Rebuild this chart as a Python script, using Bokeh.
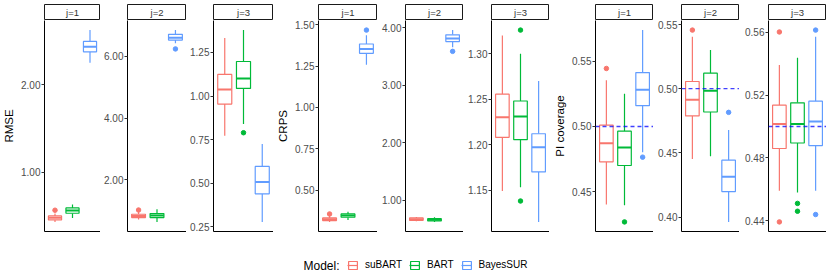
from bokeh.plotting import figure
from bokeh.layouts import row, column
from bokeh.models import (ColumnDataSource, Range1d, FixedTicker,
                          NumeralTickFormatter, Span, Label, Legend, LegendItem)
from bokeh.transform import dodge
from bokeh.core.properties import value
from bokeh.embed import file_html
from bokeh.resources import INLINE

MODELS = ["suBART", "BART", "BayesSUR"]
COLORS = ["#F8766D", "#00BA38", "#619CFF"]
FACETS = ["j=1", "j=2", "j=3"]
METRICS = ["RMSE", "CRPS", "PI coverage"]

# ---------------- RMSE ----------------
rmse_j1 = dict(lower=[0.431, 0.477, 2.252], q1=[0.454, 0.530, 2.378], median=[0.479, 0.561, 2.435],
               q3=[0.4995, 0.591, 2.497], upper=[0.527, 0.630, 2.627])
rmse_j1_out = dict(model=["suBART"], value=[0.565])
rmse_j1_ticks = [1.0, 2.0]

rmse_j2 = dict(lower=[0.718, 0.641, 6.417], q1=[0.782, 0.782, 6.52], median=[0.833, 0.846, 6.596],
               q3=[0.888, 0.910, 6.705], upper=[0.974, 1.048, 6.843])
rmse_j2_out = dict(model=["suBART", "BayesSUR"], value=[1.026, 6.234])
rmse_j2_ticks = [2.0, 4.0, 6.0]

rmse_j3 = dict(lower=[0.772, 0.840, 0.279], q1=[0.954, 1.044, 0.440], median=[1.038, 1.100, 0.507],
               q3=[1.124, 1.198, 0.597], upper=[1.333, 1.378, 0.725])
rmse_j3_out = dict(model=["BART"], value=[0.790])
rmse_j3_ticks = [0.25, 0.50, 0.75, 1.00, 1.25]

# ---------------- CRPS ----------------
crps_j1 = dict(lower=[0.309, 0.321, 1.258], q1=[0.317, 0.337, 1.327], median=[0.325, 0.347, 1.353],
               q3=[0.333, 0.357, 1.383], upper=[0.347, 0.371, 1.436])
crps_j1_out = dict(model=["suBART", "BayesSUR"], value=[0.357, 1.467])
crps_j1_ticks = [0.25, 0.50, 0.75, 1.00, 1.25, 1.50]

crps_j2 = dict(lower=[0.634, 0.624, 3.66], q1=[0.652, 0.641, 3.76], median=[0.672, 0.660, 3.814],
               q3=[0.693, 0.681, 3.878], upper=[0.711, 0.704, 3.96])
crps_j2_out = dict(model=["BayesSUR"], value=[3.59])
crps_j2_ticks = [1.0, 2.0, 3.0, 4.0]

crps_j3 = dict(lower=[1.149, 1.153, 1.115], q1=[1.208, 1.2055, 1.170], median=[1.230, 1.231, 1.197],
               q3=[1.2555, 1.248, 1.212], upper=[1.320, 1.300, 1.270])
crps_j3_out = dict(model=["BART", "BART"], value=[1.326, 1.138])
crps_j3_ticks = [1.15, 1.20, 1.25, 1.30]

# ---------------- PI coverage ----------------
pi_j1 = dict(lower=[0.4403, 0.4397, 0.4803], q1=[0.4729, 0.4701, 0.5159], median=[0.4872, 0.4839, 0.5281],
             q3=[0.5010, 0.4964, 0.5413], upper=[0.5353, 0.5250, 0.5738])
pi_j1_out = dict(model=["suBART", "BART", "BayesSUR"], value=[0.5444, 0.4269, 0.4765])
pi_j1_ticks = [0.45, 0.50, 0.55]

pi_j2 = dict(lower=[0.4453, 0.4474, 0.3963], q1=[0.4787, 0.4818, 0.4199], median=[0.4914, 0.4984, 0.4314],
             q3=[0.5055, 0.5120, 0.4443], upper=[0.5403, 0.5300, 0.4677])
pi_j2_out = dict(model=["suBART", "BayesSUR"], value=[0.5455, 0.4815])
pi_j2_ticks = [0.40, 0.45, 0.50, 0.55]

pi_j3 = dict(lower=[0.4590, 0.4579, 0.4590], q1=[0.4860, 0.4895, 0.4879], median=[0.5017, 0.5017, 0.5032],
             q3=[0.5136, 0.5151, 0.5162], upper=[0.5393, 0.5439, 0.5573])
pi_j3_out = dict(model=["suBART", "suBART", "BART", "BART", "BayesSUR", "BayesSUR"],
                 value=[0.5603, 0.4392, 0.4510, 0.4460, 0.5615, 0.4439])
pi_j3_ticks = [0.44, 0.48, 0.52, 0.56]

PI_TARGET = 0.5

# ---------------- layout / style ----------------
FONT = "Liberation Sans"
STRIP_H = 20
MAIN_H = 213
LEG_H = 43
BOX_W = 0.75
# (figure width, left border) per panel
GEOM = [(100, 41), (86, 27), (87, 27),
        (104, 45), (86, 28), (86, 28),
        (104, 46), (86, 28), (87, 29)]

panels = [
    (0, 0, rmse_j1, rmse_j1_out, rmse_j1_ticks), (0, 1, rmse_j2, rmse_j2_out, rmse_j2_ticks),
    (0, 2, rmse_j3, rmse_j3_out, rmse_j3_ticks),
    (1, 0, crps_j1, crps_j1_out, crps_j1_ticks), (1, 1, crps_j2, crps_j2_out, crps_j2_ticks),
    (1, 2, crps_j3, crps_j3_out, crps_j3_ticks),
    (2, 0, pi_j1, pi_j1_out, pi_j1_ticks), (2, 1, pi_j2, pi_j2_out, pi_j2_ticks),
    (2, 2, pi_j3, pi_j3_out, pi_j3_ticks),
]
color_of = dict(zip(MODELS, COLORS))
pos_of = {m: i + 1 for i, m in enumerate(MODELS)}   # discrete scale positions
X_RANGE = (0.4, len(MODELS) + 0.6)                  # ggplot discrete expansion


def strip_fig(label, width, left):
    s = figure(width=width, height=STRIP_H, x_range=Range1d(0, 1), y_range=Range1d(0, 1),
               min_border_left=left, min_border_right=0, min_border_top=4, min_border_bottom=0,
               x_axis_location=None, y_axis_location=None, toolbar_location=None,
               output_backend="svg")
    s.xgrid.visible = False
    s.ygrid.visible = False
    s.outline_line_color = "#1a1a1a"
    s.outline_line_width = 1
    s.background_fill_color = "white"
    s.border_fill_color = "white"
    s.text(x=[0.5], y=[0.5], text=[label], text_align="center", text_baseline="middle",
           text_font=value(FONT), text_font_size="9.5px", text_color="#333333")
    return s


def main_fig(mi, stats, outs, ticks, width, left, first):
    allv = stats["lower"] + stats["upper"] + outs["value"]
    lo, hi = min(allv), max(allv)
    pad = 0.05 * (hi - lo)
    p = figure(width=width, height=MAIN_H,
               x_range=Range1d(*X_RANGE), y_range=Range1d(lo - pad, hi + pad),
               min_border_left=left, min_border_right=0, min_border_top=0, min_border_bottom=2,
               toolbar_location=None, output_backend="svg")
    p.xgrid.visible = False
    p.ygrid.visible = False
    p.outline_line_color = None
    p.background_fill_color = "white"
    p.border_fill_color = "white"

    src = ColumnDataSource(dict(model=MODELS, pos=[pos_of[m] for m in MODELS], color=COLORS, **stats))
    p.segment(x0="pos", x1="pos", y0="q3", y1="upper", line_color="color", line_width=1.2, source=src)
    p.segment(x0="pos", x1="pos", y0="q1", y1="lower", line_color="color", line_width=1.2, source=src)
    p.vbar(x="pos", width=BOX_W, top="q3", bottom="q1", fill_color="white", line_color="color",
           line_width=1.2, source=src)
    p.segment(x0=dodge("pos", -BOX_W / 2), x1=dodge("pos", BOX_W / 2),
              y0="median", y1="median", line_color="color", line_width=2, source=src)
    osrc = ColumnDataSource(dict(pos=[pos_of[m] for m in outs["model"]], value=outs["value"],
                                 color=[color_of[m] for m in outs["model"]]))
    p.scatter(x="pos", y="value", size=4.5, fill_color="color", line_color="color", source=osrc)

    if mi == 2:
        p.add_layout(Span(location=PI_TARGET, dimension="width", line_color="blue", line_alpha=0.75,
                          line_dash="4 3", line_width=1.4))

    ya = p.yaxis[0]
    ya.ticker = FixedTicker(ticks=ticks)
    ya.formatter = NumeralTickFormatter(format="0.00")
    ya.minor_tick_line_color = None
    ya.major_tick_in = 0
    ya.major_tick_out = 3
    ya.major_tick_line_color = "#333333"
    ya.axis_line_color = "black"
    ya.axis_line_width = 1
    ya.major_label_standoff = 1
    ya.major_label_text_font = FONT
    ya.major_label_text_font_size = "10px"
    ya.major_label_text_color = "#4d4d4d"
    if first:
        ya.axis_label = METRICS[mi]
        ya.axis_label_text_font = FONT
        ya.axis_label_text_font_size = "11.5px"
        ya.axis_label_text_font_style = "normal"
        ya.axis_label_text_color = "black"
        ya.axis_label_standoff = 3

    xa = p.xaxis[0]
    xa.ticker = FixedTicker(ticks=[])
    xa.major_label_standoff = 0
    xa.major_tick_out = 0
    xa.major_tick_in = 0
    xa.minor_tick_out = 0
    xa.minor_tick_in = 0
    xa.axis_line_color = "black"
    xa.axis_line_width = 1
    return p


cols = []
for (mi, fi, stats, outs, ticks), (w, left) in zip(panels, GEOM):
    s = strip_fig(FACETS[fi], w, left)
    m = main_fig(mi, stats, outs, ticks, w, left, fi == 0)
    cols.append(column(s, m, spacing=0))
panel_row = row(*cols, spacing=0)

# ---------------- legend ----------------
LEG_W = sum(g[0] for g in GEOM)
lf = figure(width=LEG_W, height=LEG_H, x_range=Range1d(0, 1), y_range=Range1d(0, 1),
            min_border_left=0, min_border_right=0, min_border_top=0, min_border_bottom=0,
            x_axis_location=None, y_axis_location=None, toolbar_location=None,
            output_backend="svg")
lf.xgrid.visible = False
lf.ygrid.visible = False
lf.outline_line_color = None
lf.border_fill_color = "white"
items = []
for mname, c in zip(MODELS, COLORS):
    # key-only renderers: one sample placed outside the (clipped) frame
    ksrc = ColumnDataSource(dict(x=[-5.0], y=[-5.0]))
    rb = lf.vbar(x="x", top="y", bottom="y", width=0.1, fill_color="white", line_color=c,
                 line_width=1.2, source=ksrc)
    rm = lf.segment(x0="x", y0="y", x1="x", y1="y", line_color=c, line_width=1.2, source=ksrc)
    items.append(LegendItem(label=mname, renderers=[rb, rm]))
leg = Legend(items=items, orientation="horizontal", location=(347, 6),
             border_line_color=None, background_fill_alpha=0, padding=0, margin=0,
             spacing=7, label_standoff=7, glyph_width=11, glyph_height=10,
             label_text_font=FONT, label_text_font_size="10px", label_text_color="black",
             label_height=10)
lf.add_layout(leg)
lf.add_layout(Label(x=303, y=11, x_units="screen", y_units="screen", text="Model:",
                    text_font=FONT, text_font_size="12px", text_color="black",
                    text_baseline="middle"))

root = column(panel_row, lf, spacing=0)

open("out.html", "w").write(file_html(root, INLINE))
